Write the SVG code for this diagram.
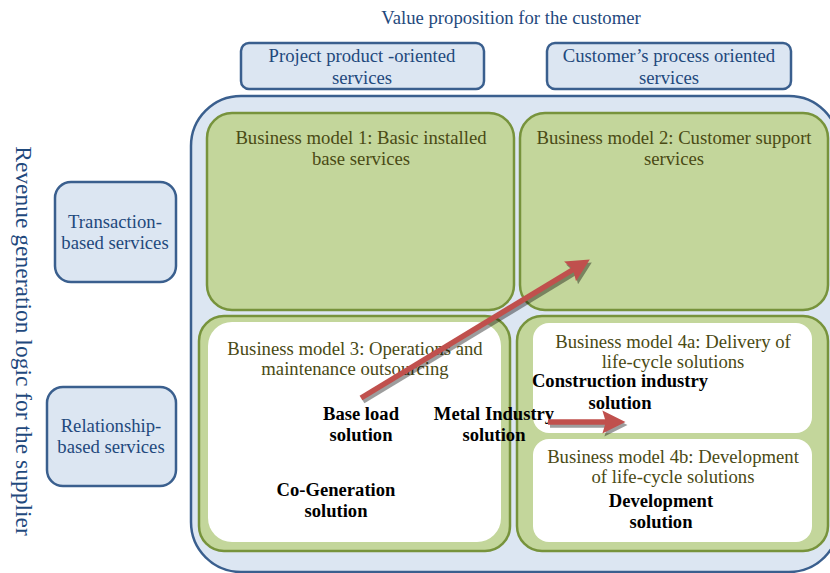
<svg xmlns="http://www.w3.org/2000/svg" width="830" height="573" viewBox="0 0 830 573">
<defs>
<style>
.blue{fill:#dce6f2;stroke:#3a5f8e;stroke-width:2.5}
.green{fill:#c3d69b;stroke:#77933c;stroke-width:2.5}
.white{fill:#ffffff;stroke:none}
.tb{font-family:"Liberation Serif","Times New Roman",serif;font-size:18.7px;fill:#1f497d;text-anchor:middle}
.tg{font-family:"Liberation Serif","Times New Roman",serif;font-size:18.7px;fill:#4a4a14;text-anchor:middle}
.tk{font-family:"Liberation Serif","Times New Roman",serif;font-size:18.6px;font-weight:bold;fill:#000;text-anchor:middle}
.arr{stroke:#c0504d;stroke-width:5.5;fill:none}
.shd{stroke:#000;stroke-width:5.5;fill:none;opacity:0.38}
</style>
<marker id="head" viewBox="0 0 10 10" refX="2" refY="5" markerWidth="4.6" markerHeight="4.2" orient="auto" markerUnits="strokeWidth">
<path d="M0,0 L10,5 L0,10 L1.5,5 z" fill="#c0504d"/>
</marker>
<marker id="headS" viewBox="0 0 10 10" refX="2" refY="5" markerWidth="4.6" markerHeight="4.2" orient="auto" markerUnits="strokeWidth">
<path d="M0,0 L10,5 L0,10 L1.5,5 z" fill="#000"/>
</marker>
</defs>
<rect width="830" height="573" fill="#ffffff"/>

<text class="tb" x="511" y="24">Value proposition for the customer</text>
<text class="tb" transform="translate(16,341) rotate(90)" style="font-size:23.5px">Revenue generation logic for the supplier</text>

<g id="top-product">
<rect class="blue" x="241" y="43" width="243" height="46" rx="8"/>
<text class="tb" x="362" y="62">Project product -oriented</text>
<text class="tb" x="362" y="84">services</text>
</g>
<g id="top-process">
<rect class="blue" x="547" y="43" width="244" height="46" rx="8"/>
<text class="tb" x="669" y="62">Customer’s process oriented</text>
<text class="tb" x="669" y="84">services</text>
</g>
<g id="left-transaction">
<rect class="blue" x="55" y="182" width="121" height="100" rx="16"/>
<text class="tb" x="115" y="228">Transaction-</text>
<text class="tb" x="115" y="249">based services</text>
</g>
<g id="left-relationship">
<rect class="blue" x="47" y="387" width="129" height="99" rx="16"/>
<text class="tb" x="111" y="432">Relationship-</text>
<text class="tb" x="111" y="453">based services</text>
</g>

<g id="container">
<rect class="blue" x="191" y="96" width="648" height="476" rx="50"/>
</g>

<g id="bm1">
<rect class="green" x="207" y="113" width="307" height="197" rx="25"/>
<text class="tg" x="361" y="144">Business model 1: Basic installed</text>
<text class="tg" x="361" y="165">base services</text>
</g>
<g id="bm2">
<rect class="green" x="520" y="113" width="308" height="197" rx="25"/>
<text class="tg" x="674" y="144">Business model 2: Customer support</text>
<text class="tg" x="674" y="165">services</text>
</g>
<g id="bm3">
<rect class="green" x="199" y="316" width="311" height="235" rx="25"/>
<rect class="white" x="208" y="322" width="293" height="220" rx="24"/>
<text class="tg" x="355" y="355">Business model 3: Operations and</text>
<text class="tg" x="355" y="375">maintenance outsourcing</text>
<text class="tk" x="361" y="420">Base load</text>
<text class="tk" x="361" y="441">solution</text>
<text class="tk" x="336" y="496">Co-Generation</text>
<text class="tk" x="336" y="517">solution</text>
</g>
<g id="bm4">
<rect class="green" x="517" y="316" width="311" height="235" rx="25"/>
<rect class="white" x="533" y="323" width="279" height="110" rx="16"/>
<rect class="white" x="533" y="439" width="279" height="103" rx="16"/>
<text class="tg" x="673" y="348">Business model 4a: Delivery of</text>
<text class="tg" x="673" y="368">life-cycle solutions</text>
<text class="tk" x="620" y="387">Construction industry</text>
<text class="tk" x="620" y="409">solution</text>
<text class="tg" x="673" y="463">Business model 4b: Development</text>
<text class="tg" x="673" y="483">of life-cycle solutions</text>
<text class="tk" x="661" y="507">Development</text>
<text class="tk" x="661" y="528">solution</text>
</g>
<g id="metal-industry">
<text class="tk" x="494" y="420">Metal Industry</text>
<text class="tk" x="494" y="441">solution</text>
</g>

<g id="connectors">
<line class="shd" x1="363" y1="401" x2="576" y2="272" marker-end="url(#headS)"/>
<line class="shd" x1="550" y1="425" x2="609" y2="425" marker-end="url(#headS)"/>
<line class="arr" x1="361" y1="398" x2="574" y2="269" marker-end="url(#head)"/>
<line class="arr" x1="548" y1="422" x2="607" y2="422" marker-end="url(#head)"/>
</g>
</svg>
